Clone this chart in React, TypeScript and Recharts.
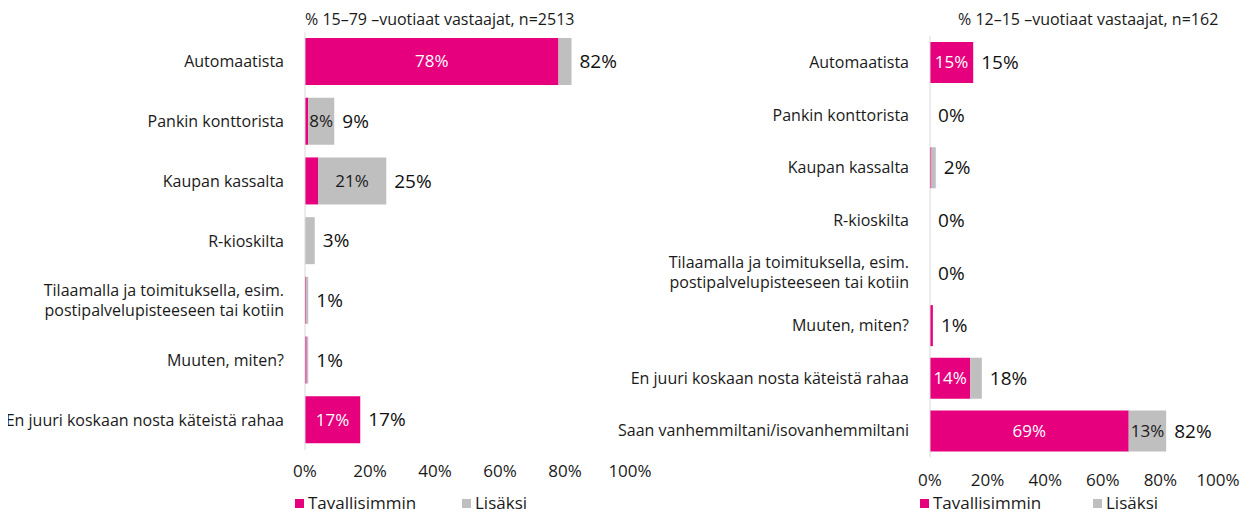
import React from "react";
import { BarChart, Bar, XAxis, YAxis, LabelList } from "recharts";

const leftCategories = [
  "Automaatista",
  "Pankin konttorista",
  "Kaupan kassalta",
  "R-kioskilta",
  "Tilaamalla ja toimituksella, esim.\npostipalvelupisteeseen tai kotiin",
  "Muuten, miten?",
  "En juuri koskaan nosta käteistä rahaa",
];
const leftTavallisimmin = [78, 1, 4, 0, 0.3, 0.5, 17];
const leftLisaksi = [4, 8, 21, 3, 0.7, 0.5, 0];
const leftTotals = [82, 9, 25, 3, 1, 1, 17];

const rightCategories = [
  "Automaatista",
  "Pankin konttorista",
  "Kaupan kassalta",
  "R-kioskilta",
  "Tilaamalla ja toimituksella, esim.\npostipalvelupisteeseen tai kotiin",
  "Muuten, miten?",
  "En juuri koskaan nosta käteistä rahaa",
  "Saan vanhemmiltani/isovanhemmiltani",
];
const rightTavallisimmin = [15, 0, 0.5, 0, 0, 1, 14, 69];
const rightLisaksi = [0, 0, 1.5, 0, 0, 0, 4, 13];
const rightTotals = [15, 0, 2, 0, 0, 1, 18, 82];

const xTicks = [0, 20, 40, 60, 80, 100];

const MAGENTA = "#e6007e";
const GRAY = "#bfbfbf";
const FONT = "'Open Sans', sans-serif";

function buildRows(cats: string[], tav: number[], lis: number[], tot: number[]) {
  return cats.map((name, i) => ({
    name,
    tav: tav[i],
    lis: lis[i],
    total: tot[i],
  }));
}

const CategoryTick = (props: any) => {
  const { x, y, payload } = props;
  const lines = String(payload.value).split("\n");
  const lh = 20;
  const start = y - ((lines.length - 1) * lh) / 2;
  return (
    <text x={x} y={start} textAnchor="end" fontSize={16} fill="#1a1a1a" fontFamily={FONT}>
      {lines.map((l: string, i: number) => (
        <tspan key={i} x={x} y={start + i * lh} dy="0.35em">
          {l}
        </tspan>
      ))}
    </text>
  );
};

const innerLabel = (color: string) => (props: any) => {
  const { x, y, width, height, value } = props;
  if (value == null || value < 8) return null;
  return (
    <text
      x={x + width / 2}
      y={y + height / 2}
      dy="0.35em"
      textAnchor="middle"
      fontSize={17}
      fill={color}
      fontFamily={FONT}
    >
      {Math.round(value)}%
    </text>
  );
};

const totalLabel = (props: any) => {
  const { x, y, width, height, value } = props;
  return (
    <text
      x={x + width + 8}
      y={y + height / 2}
      dy="0.35em"
      textAnchor="start"
      fontSize={19}
      fill="#111"
      fontFamily={FONT}
    >
      {value}%
    </text>
  );
};

function Panel({
  rows,
  width,
  height,
  yWidth,
  margin,
  tickMargin,
  barSize,
}: {
  rows: any[];
  width: number;
  height: number;
  yWidth: number;
  margin: any;
  tickMargin: number;
  barSize: number;
}) {
  return (
    <BarChart
      layout="vertical"
      width={width}
      height={height}
      data={rows}
      margin={margin}
      barSize={barSize}
    >
      <XAxis
        type="number"
        domain={[0, 100]}
        ticks={xTicks}
        tickFormatter={(v) => `${v}%`}
        axisLine={false}
        tickLine={false}
        tickMargin={tickMargin}
        height={30}
        interval={0}
        tick={{ fontSize: 17, fill: "#1a1a1a", fontFamily: FONT }}
      />
      <YAxis
        type="category"
        dataKey="name"
        width={yWidth}
        axisLine={{ stroke: "#d9d9d9" }}
        tickLine={false}
        tick={<CategoryTick />}
        tickMargin={15}
        interval={0}
      />
      <Bar dataKey="tav" stackId="a" fill={MAGENTA} isAnimationActive={false}>
        <LabelList dataKey="tav" content={innerLabel("#ffffff")} />
      </Bar>
      <Bar
        dataKey="lis"
        stackId="a"
        fill={GRAY}
        minPointSize={0.01}
        isAnimationActive={false}
      >
        <LabelList dataKey="lis" content={innerLabel("#1a1a1a")} />
        <LabelList dataKey="total" content={totalLabel} />
      </Bar>
    </BarChart>
  );
}

const LegendRow = ({ left, gap }: { left: number; gap: number }) => (
  <div
    style={{
      position: "absolute",
      left,
      top: 486,
      display: "flex",
      alignItems: "center",
      fontFamily: FONT,
      fontSize: 17,
      lineHeight: "18px",
      color: "#1a1a1a",
    }}
  >
    <span style={{ width: 9, height: 9, background: MAGENTA, marginRight: 4 }} />
    <span style={{ width: gap }}>Tavallisimmin</span>
    <span style={{ width: 9, height: 9, background: GRAY, marginRight: 4 }} />
    <span>Lisäksi</span>
  </div>
);

export default function App() {
  const left = buildRows(leftCategories, leftTavallisimmin, leftLisaksi, leftTotals);
  const right = buildRows(rightCategories, rightTavallisimmin, rightLisaksi, rightTotals);
  return (
    <div style={{ position: "relative", width: 1242, height: 505, background: "#fff" }}>
      <div style={{ position: "absolute", left: -6, top: 0 }}>
        <Panel
          rows={left}
          width={668}
          height={492}
          yWidth={303}
          margin={{ top: 24, right: 40, bottom: 20, left: 0 }}
          tickMargin={9}
          barSize={47}
        />
      </div>
      <div style={{ position: "absolute", left: 592, top: 0 }}>
        <Panel
          rows={right}
          width={650}
          height={492}
          yWidth={330}
          margin={{ top: 28, right: 32, bottom: 13, left: 0 }}
          tickMargin={11}
          barSize={41}
        />
      </div>
      <div
        style={{
          position: "absolute",
          left: 297,
          top: 0,
          fontFamily: FONT,
          fontSize: 16,
          color: "#1a1a1a",
        }}
      >
        % 15–79 –vuotiaat vastaajat, n=2513
      </div>
      <div
        style={{
          position: "absolute",
          left: 950,
          top: 0,
          fontFamily: FONT,
          fontSize: 16,
          color: "#1a1a1a",
        }}
      >
        % 12–15 –vuotiaat vastaajat, n=162
      </div>
      <LegendRow left={287} gap={154} />
      <LegendRow left={912} gap={160} />
    </div>
  );
}
